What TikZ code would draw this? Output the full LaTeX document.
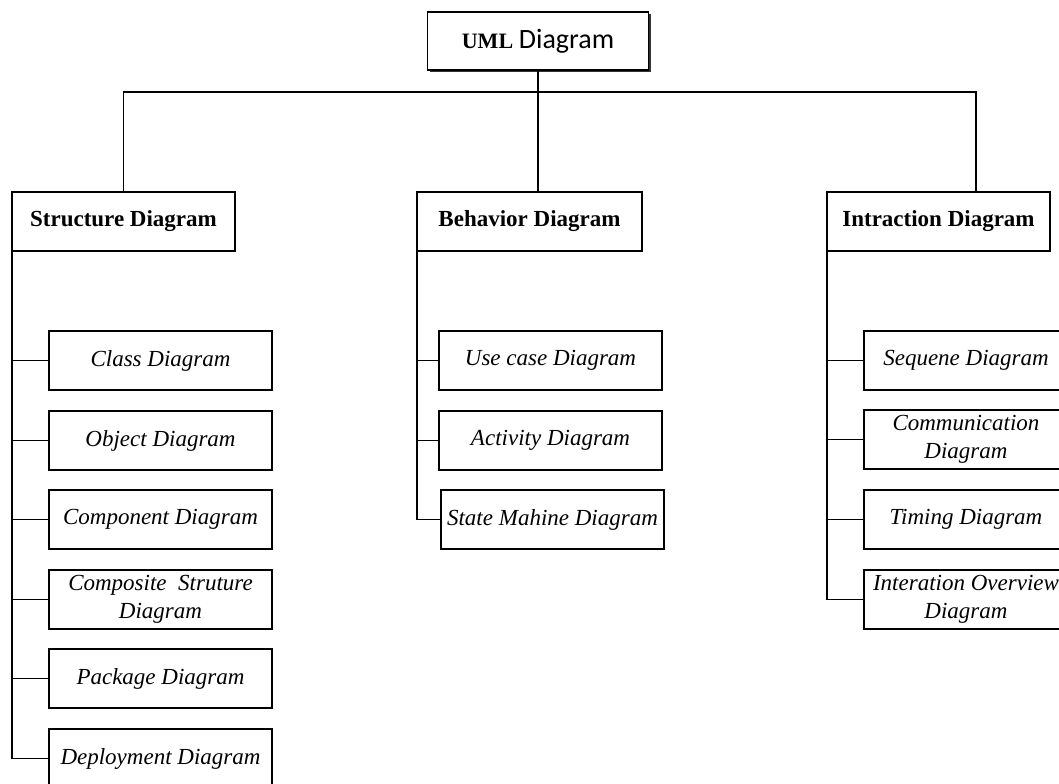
\documentclass[tikz,border=0pt]{standalone}
\usepackage{fontspec}
\setmainfont{Liberation Serif}
\newfontfamily\calibrifont{Carlito}
\usetikzlibrary{shadows}

\begin{document}
\begin{tikzpicture}[
            x = 0.5pt, y = -0.5pt, % one unit = one pixel of the layout
            line width = 0.9pt, % line style
            box/.style = {draw=black, fill=white, inner sep=2pt, outer sep=0pt,
                          minimum height=29.5pt, align=center,
                          font=\fontsize{11.5}{14}\selectfont},
            head/.style = {box, minimum width=111.5pt, font=\fontsize{11.5}{14}\selectfont\bfseries},
            leaf/.style = {box, minimum width=111.5pt, font=\fontsize{11.5}{14}\selectfont\itshape},
            leafR/.style = {leaf, minimum width=102pt}
        ]

\path[fill=white, use as bounding box] (0,0) rectangle (1059,783);

% root
\node[box, minimum width=110.5pt, minimum height=29pt,
      drop shadow={shadow xshift=1pt, shadow yshift=-1pt, fill=black!80, opacity=1}]
      (uml) at (538,41) {{\fontsize{11}{13}\selectfont\bfseries UML} {\calibrifont\fontsize{14}{16}\selectfont Diagram}};

% the three groups
\node[head, anchor=north west] (struct) at (12,192) {Structure Diagram};
\node[head, anchor=north west, minimum width=112.5pt] (behav) at (417,192) {Behavior Diagram};
\node[head, anchor=north west] (inter) at (827,192) {Intraction Diagram};

% structure diagrams
\node[leaf, anchor=north west] (cls) at (49,331) {Class Diagram};
\node[leaf, anchor=north west] (obj) at (49,411) {Object Diagram};
\node[leaf, anchor=north west] (comp) at (49,490) {Component Diagram};
\node[leaf, anchor=north west] (csd) at (49,570) {Composite\ \ Struture\\Diagram};
\node[leaf, anchor=north west] (pkg) at (49,649) {Package Diagram};
\node[leaf, anchor=north west] (dep) at (49,729) {Deployment Diagram};

% behavior diagrams
\node[leaf, anchor=north west] (usecase) at (439,331) {Use case Diagram};
\node[leaf, anchor=north west] (act) at (439,411) {Activity Diagram};
\node[leaf, anchor=north west] (state) at (441,490) {State Mahine Diagram};

% interaction diagrams
\node[leafR, anchor=north west] (seq) at (864,331) {Sequene Diagram};
\node[leafR, anchor=north west] (comm) at (864,410) {Communication\\Diagram};
\node[leafR, anchor=north west] (timing) at (864,490) {Timing Diagram};
\node[leafR, anchor=north west] (overview) at (864,570) {Interation Overview\\Diagram};

% bus from the root
\coordinate (busL) at (struct.north |- 0,92);
\coordinate (busR) at (976,92);
\draw (struct.north) -- (busL) -- (busR) -- (busR |- inter.north);
\draw (uml.south) -- (uml.south |- behav.north);

% spines and branches
\draw (struct.south west) -- (struct.south west |- dep.west);
\foreach \n in {cls,obj,comp,csd,pkg,dep}
  \draw (struct.south west |- \n.west) -- (\n.west);

\draw (behav.south west) -- (behav.south west |- state.west);
\foreach \n in {usecase,act,state}
  \draw (behav.south west |- \n.west) -- (\n.west);

\draw (inter.south west) -- (inter.south west |- overview.west);
\foreach \n in {seq,comm,timing,overview}
  \draw (inter.south west |- \n.west) -- (\n.west);

\end{tikzpicture}
\end{document}
